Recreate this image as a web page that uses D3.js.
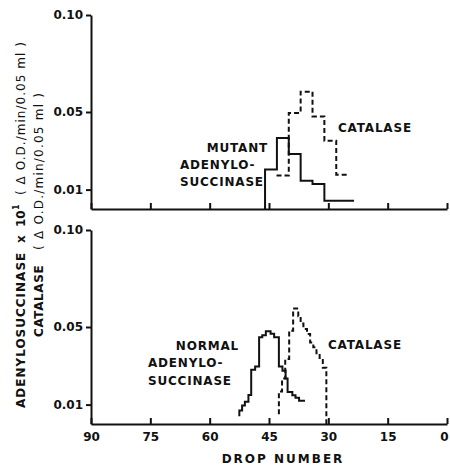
<!DOCTYPE html>
<html>
<head>
<meta charset="utf-8">
<script src="https://cdn.jsdelivr.net/npm/d3@7"></script>
<style>
  body { margin: 0; background: #fff; }
  svg { display: block; }
  text { font-family: 'DejaVu Sans', sans-serif; fill: #111; }
  .axis path, .axis line { stroke: #111; stroke-width: 2; }
  .axis text { font-size: 12px; font-weight: bold; }
</style>
</head>
<body>
<div id="chart"></div>
<script>
const xTicks = [90, 75, 60, 45, 30, 15, 0]
const yTicks = [0.01, 0.05, 0.10]

// top panel: mutant enzyme
const mutantEdges = [46, 43, 40, 37, 34, 31, 23.5]
const mutantValues = [0.0203, 0.0366, 0.0284, 0.0146, 0.0129, 0.0043]

const catalaseTopEdges = [43.1, 40, 37, 34, 31, 28, 25]
const catalaseTopValues = [0.0173, 0.0495, 0.0605, 0.0477, 0.0352, 0.0177]

// bottom panel: normal enzyme
const normalEdges = [52.5, 51.8, 51.1, 50.2, 49.5, 48.5, 47.5, 46.7, 45.8, 44.6, 43.7, 42.5, 41.6, 40.8, 40.3, 39.1, 38.3, 37.4, 35.9]
const normalValues = [0.007, 0.0095, 0.0115, 0.015, 0.028, 0.0297, 0.0447, 0.0458, 0.0478, 0.0465, 0.0447, 0.0297, 0.0275, 0.0234, 0.0165, 0.0148, 0.0135, 0.012]

const catalaseBottomEdges = [42.5, 41.7, 40.9, 39.9, 38.9, 37.6, 37.0, 36.3, 35.4, 34.6, 33.8, 33.0, 32.2, 31.4, 30.5]
const catalaseBottomValues = [0.0168, 0.0234, 0.0335, 0.0481, 0.0595, 0.0555, 0.0518, 0.049, 0.0464, 0.042, 0.0395, 0.0365, 0.034, 0.029]

const width = 450
const height = 465

const svg = d3
  .select('#chart')
  .append('svg')
  .attr('width', width)
  .attr('height', height)

const xPositionScale = d3.scaleLinear().domain([90, 0]).range([91, 447])
const yTop = d3.scaleLinear().domain([0, 0.1]).range([209, 15])
const yBottom = d3.scaleLinear().domain([0, 0.1]).range([424, 230])

// build a step path: start value, bins, optional end value
function stepPoints(edges, values, start, end) {
  const pts = []
  if (start !== null) pts.push([edges[0], start])
  values.forEach((v, i) => pts.push([edges[i], v]))
  pts.push([edges[edges.length - 1], values[values.length - 1]])
  if (end !== null) pts.push([edges[edges.length - 1], end])
  return pts
}

function drawPanel(yScale, showLabels) {
  const xAxis = d3
    .axisBottom(xPositionScale)
    .tickValues(xTicks)
    .tickSize(-6)
    .tickSizeOuter(0)
    .tickPadding(8)
    .tickFormat(showLabels ? d3.format('d') : '')

  const gx = svg
    .append('g')
    .attr('class', 'axis x-axis')
    .attr('transform', 'translate(0,' + yScale(0) + ')')
    .call(xAxis)

  // keep the last label inside the page
  gx.selectAll('.tick text').filter(d => d === 0).attr('dx', -3)

  const yAxis = d3
    .axisLeft(yScale)
    .tickValues(yTicks)
    .tickSize(5)
    .tickSizeOuter(0)
    .tickPadding(3)
    .tickFormat(d3.format('.2f'))

  svg
    .append('g')
    .attr('class', 'axis y-axis')
    .attr('transform', 'translate(' + xPositionScale(90) + ',0)')
    .call(yAxis)

  svg.selectAll('.axis .domain').attr('fill', 'none')
}

drawPanel(yTop, false)
drawPanel(yBottom, true)

function drawStep(pts, yScale, dashed) {
  const line = d3
    .line()
    .x(d => xPositionScale(d[0]))
    .y(d => yScale(d[1]))
    .curve(d3.curveStepAfter)

  svg
    .append('path')
    .datum(pts)
    .attr('d', line)
    .attr('fill', 'none')
    .attr('stroke', '#111')
    .attr('stroke-width', 2)
    .attr('stroke-dasharray', dashed ? '5 3' : null)
}

drawStep(stepPoints(mutantEdges, mutantValues, 0, null), yTop, false)
drawStep(stepPoints(catalaseTopEdges, catalaseTopValues, null, null), yTop, true)
drawStep(stepPoints(normalEdges, normalValues, 0.004, null), yBottom, false)
drawStep(stepPoints(catalaseBottomEdges, catalaseBottomValues, 0.005, 0), yBottom, true)

// curve labels
const labels = [
  { text: 'MUTANT', x: 268, y: 151.5, anchor: 'end' },
  { text: 'ADENYLO-', x: 180, y: 168.5, anchor: 'start' },
  { text: 'SUCCINASE', x: 180, y: 185.5, anchor: 'start' },
  { text: 'CATALASE', x: 338, y: 131.5, anchor: 'start' },
  { text: 'NORMAL', x: 239, y: 349.5, anchor: 'end' },
  { text: 'ADENYLO-', x: 148, y: 367, anchor: 'start' },
  { text: 'SUCCINASE', x: 148, y: 385, anchor: 'start' },
  { text: 'CATALASE', x: 328, y: 348.5, anchor: 'start' }
]

svg
  .selectAll('.curve-label')
  .data(labels)
  .enter()
  .append('text')
  .attr('class', 'curve-label')
  .attr('x', d => d.x)
  .attr('y', d => d.y)
  .attr('text-anchor', d => d.anchor)
  .attr('font-size', 12)
  .attr('font-weight', 'bold')
  .attr('letter-spacing', 0.8)
  .text(d => d.text)

// x title
svg
  .append('text')
  .attr('x', 283)
  .attr('y', 463)
  .attr('text-anchor', 'middle')
  .attr('font-size', 12)
  .attr('font-weight', 'bold')
  .attr('letter-spacing', 2)
  .text('DROP NUMBER')

// y titles, two rotated columns
const col1 = svg
  .append('text')
  .attr('transform', 'translate(25,408) rotate(-90)')
  .attr('font-size', 12)

col1.append('tspan').attr('x', 0).attr('font-weight', 'bold').attr('letter-spacing', 1).text('ADENYLOSUCCINASE')
col1.append('tspan').attr('x', 165).attr('font-weight', 'bold').text('x')
col1.append('tspan').attr('x', 181).attr('font-weight', 'bold').text('10')
col1.append('tspan').attr('x', 198).attr('dy', -6).attr('font-size', 8).attr('font-weight', 'bold').text('1')
col1
  .append('tspan')
  .attr('x', 213)
  .attr('dy', 6)
  .attr('textLength', 153)
  .attr('lengthAdjust', 'spacing')
  .text('( Δ O.D./min/0.05 ml )')

const col2 = svg
  .append('text')
  .attr('transform', 'translate(43,337) rotate(-90)')
  .attr('font-size', 12)

col2.append('tspan').attr('x', 0).attr('font-weight', 'bold').attr('letter-spacing', 0.6).text('CATALASE')
col2
  .append('tspan')
  .attr('x', 87)
  .attr('textLength', 157)
  .attr('lengthAdjust', 'spacing')
  .text('( Δ O.D./min/0.05 ml )')
</script>
</body>
</html>
